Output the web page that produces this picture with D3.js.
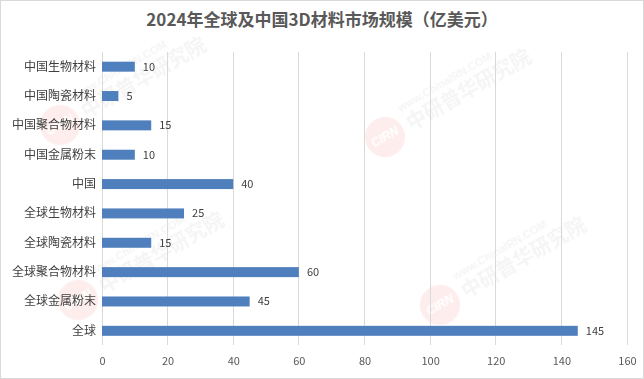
<!DOCTYPE html>
<html><head><meta charset="utf-8">
<script src="https://cdn.jsdelivr.net/npm/d3@7"></script>
<style>body{margin:0;background:#fff}svg{display:block}</style>
</head><body>
<script>
const categories = ["中国生物材料","中国陶瓷材料","中国聚合物材料","中国金属粉末","中国","全球生物材料","全球陶瓷材料","全球聚合物材料","全球金属粉末","全球"];
const values = [10,5,15,10,40,25,15,60,45,145];
const xTicks = [0,20,40,60,80,100,120,140,160];
const title = "2024年全球及中国3D材料市场规模（亿美元）";

const W=644,H=379;
const svg=d3.select("body").append("svg").attr("width",W).attr("height",H);
svg.append("rect").attr("x",0.5).attr("y",0.5).attr("width",W-1).attr("height",H-1).attr("fill","#fff").attr("stroke","#d9d9d9");
const font="'Microsoft YaHei','Noto Sans CJK SC',sans-serif";
svg.append("text").attr("x",322).attr("y",26).attr("text-anchor","middle").attr("font-family",font)
  .attr("font-size",17).attr("font-weight","bold").attr("fill","#595959").text(title);

const x=d3.scaleLinear().domain([0,160]).range([102,627]);
const y=d3.scaleBand().domain(categories).range([52,345.5]).paddingInner(0.66).paddingOuter(0.33);

// watermarks
const wm=svg.append("g").attr("opacity",0.09);
[[60,125],[385,137],[440,305],[78,300]].forEach(([cx,cy])=>{
  const g=wm.append("g").attr("transform",`translate(${cx},${cy}) rotate(-30)`);
  g.append("circle").attr("r",20).attr("fill","#e33");
  g.append("text").attr("x",0).attr("y",4).attr("text-anchor","middle").attr("font-size",12).attr("font-weight","bold").attr("font-style","italic").attr("fill","#fff").attr("font-family","Arial").text("CIRN");
  g.append("text").attr("x",26).attr("y",8).attr("font-size",20).attr("font-weight","bold").attr("fill","#888").attr("font-family",font).text("中研普华研究院");
  g.append("text").attr("x",26).attr("y",-14).attr("font-size",11).attr("font-weight","bold").attr("fill","#888").attr("font-family","Arial").text("www.ChinaIRN.COM");
});

// grid
svg.append("g").selectAll("line").data(xTicks).join("line")
  .attr("x1",d=>x(d)).attr("x2",d=>x(d)).attr("y1",52).attr("y2",345)
  .attr("stroke","#d9d9d9").attr("stroke-width",1).attr("shape-rendering","crispEdges");

// x axis labels
const xa=svg.append("g").attr("transform","translate(0,345)").call(d3.axisBottom(x).tickValues(xTicks).tickSize(0).tickPadding(12));
xa.select(".domain").remove();
xa.selectAll("text").attr("font-family",font).attr("font-size",11).attr("fill","#595959");

// y axis labels
const ya=svg.append("g").attr("transform","translate(102,0)").call(d3.axisLeft(y).tickSize(0).tickPadding(6));
ya.select(".domain").remove();
ya.selectAll("text").attr("font-family",font).attr("font-size",12).attr("fill","#404040");

// bars
svg.append("g").selectAll("rect").data(categories).join("rect")
  .attr("x",x(0)).attr("y",d=>y(d)).attr("height",y.bandwidth())
  .attr("width",(d,i)=>x(values[i])-x(0)).attr("fill","#4f7fbd");
svg.append("g").selectAll("text").data(categories).join("text")
  .attr("x",(d,i)=>x(values[i])+8).attr("y",d=>y(d)+y.bandwidth()/2).attr("dy","0.35em")
  .attr("font-family",font).attr("font-size",11).attr("fill","#404040").text((d,i)=>values[i]);
</script>
</body></html>
